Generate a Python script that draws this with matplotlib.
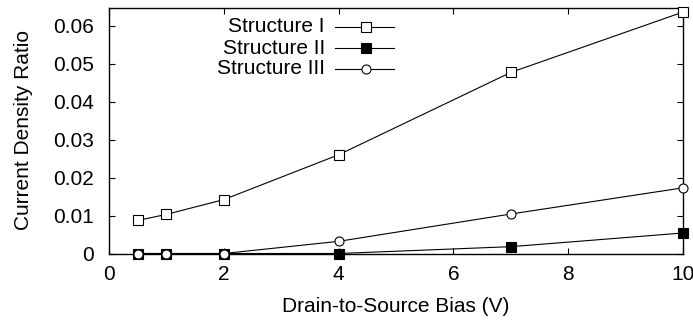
import matplotlib
matplotlib.use("Agg")
import matplotlib.pyplot as plt
from matplotlib.lines import Line2D

plt.rcParams['font.family'] = ['Liberation Sans', 'DejaVu Sans']

bias = [0.5, 1, 2, 4, 7, 10]
struct1 = [0.0087, 0.0103, 0.0142, 0.0260, 0.0477, 0.0636]
struct2 = [0.0, 0.0, 0.0, 0.0, 0.0018, 0.0054]
struct3 = [0.0, 0.0, 0.0, 0.0032, 0.0104, 0.0173]
labels = ["Structure I", "Structure II", "Structure III"]
xticks = [0, 2, 4, 6, 8, 10]
yticks = [0, 0.01, 0.02, 0.03, 0.04, 0.05, 0.06]
ytick_labels = ["0", "0.01", "0.02", "0.03", "0.04", "0.05", "0.06"]

W, H = 693, 322
L, R, T, B = 109, 683, 7.5, 253.5
fig = plt.figure(figsize=(W/100, H/100), dpi=100)
ax = fig.add_axes([L/W, 1-B/H, (R-L)/W, (B-T)/H])

styles = [
    dict(marker='s', ms=6.5, mfc='white'),
    dict(marker='s', ms=6.5, mfc='black'),
    dict(marker='o', ms=6.5, mfc='white'),
]
series = [struct1, struct2, struct3]
for ys, st in zip(series, styles):
    ax.plot(bias, ys, '-', color='black', lw=0.8, mec='black', mew=0.8,
            clip_on=False, zorder=3, **st)

ax.set_xlim(0, 10)
ax.set_ylim(0, 0.0648)
ax.set_xticks(xticks)
ax.set_xticklabels([str(v) for v in xticks])
ax.set_yticks(yticks)
ax.set_yticklabels(ytick_labels)
ax.tick_params(direction='in', top=True, right=True, length=4, width=0.8,
               labelsize=15)
ax.tick_params(axis='y', pad=11)
ax.tick_params(axis='x', pad=8)
for s in ax.spines.values():
    s.set_linewidth(1.0)

ax.set_xlabel("Drain-to-Source Bias (V)", fontsize=15, labelpad=10)
ax.set_ylabel("Current Density Ratio", fontsize=15, labelpad=14)

# gnuplot-style key drawn in axes coordinates
def ax_x(px):
    return (px - L) / (R - L)

def ax_y(py):
    return (B - py) / (B - T)

row_y = [26.5, 48, 69]
for lab, st, py in zip(labels, styles, row_y):
    ax.text(ax_x(325), ax_y(py), lab, transform=ax.transAxes, ha='right',
            va='center', fontsize=15)
    ax.add_line(Line2D([ax_x(335), ax_x(394)], [ax_y(py), ax_y(py)],
                       transform=ax.transAxes, color='black', lw=0.8,
                       clip_on=False))
    ax.add_line(Line2D([ax_x(366)], [ax_y(py)], transform=ax.transAxes,
                       color='black', lw=0, mec='black', mew=0.8,
                       clip_on=False, **st))

fig.savefig("out.png", dpi=100)
